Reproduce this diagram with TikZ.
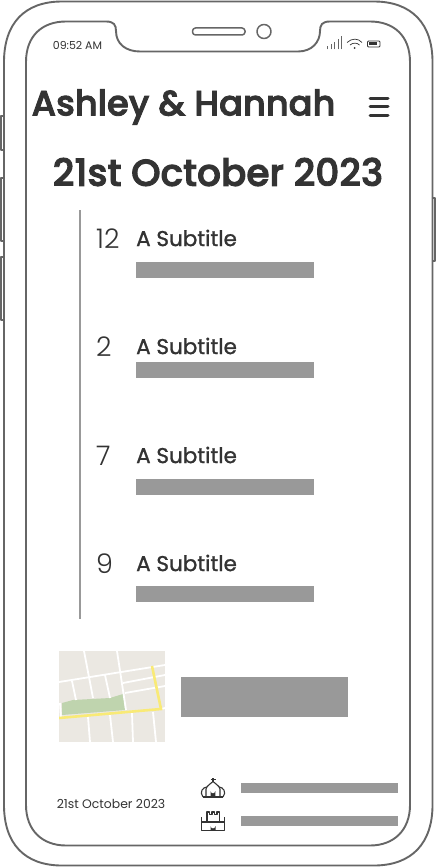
\documentclass[tikz,border=0pt]{standalone}
\usepackage{fontspec}
\setmainfont{Poppins}
\newfontfamily\headfont[FakeBold=2.5]{Poppins Medium}
\newfontfamily\midfont[FakeBold=1.2]{Poppins}
\newfontfamily\lightfont{Poppins Light}
\definecolor{ink}{HTML}{333333}
\definecolor{frame}{HTML}{666666}
\definecolor{bar}{HTML}{999999}
\definecolor{mapbg}{HTML}{EBE8E2}
\definecolor{mapgreen}{HTML}{BFD4AE}
\definecolor{mapyellow}{HTML}{F9EA76}
\tikzset{x=1pt,y=-1pt,
 framel/.style={draw=frame,line width=1.9pt,line join=round},
 btn/.style={draw=frame,line width=1.5pt,line join=round},
 barbox/.style={fill=bar,draw=none,inner sep=0pt,anchor=north west},
 txt/.style={text=ink,inner sep=0pt},
 road/.style={draw=white,line width=1.8pt},
 hway/.style={draw=mapyellow,line width=2.6pt},
 icon/.style={draw=ink,line width=1.1pt,line join=round}}
\newcommand{\barrect}[5]{\node[barbox,minimum width=#3pt,minimum height=#4pt] (#5) at (#1,#2) {};}
\begin{document}
\begin{tikzpicture}
\useasboundingbox (0,0) rectangle (436,867);
\fill[white] (0,0) rectangle (436,867);
% side buttons
\draw[btn] (3,116) -- (1,116) -- (1,150) -- (3,150);
\draw[btn] (3,178) -- (1,178) -- (1,241) -- (3,241);
\draw[btn] (3,257) -- (1,257) -- (1,320) -- (3,320);
\draw[btn] (432,198) -- (435,198) -- (435,261) -- (432,261);
% outer
\draw[framel] (62,1.5) -- (374,1.5) .. controls (412,1.5) and (432.5,24) .. (432.5,62) -- (432.5,805) .. controls (432.5,843) and (412,865.5) .. (374,865.5) -- (62,865.5) .. controls (24,865.5) and (4,843) .. (4,805) -- (4,62) .. controls (4,24) and (24,1.5) .. (62,1.5) -- cycle;
% inner
\draw[framel] (26,62) .. controls (26,36) and (42,21.5) .. (66,21.5) -- (106,21.5) .. controls (114,21.5) and (116,25) .. (116,31) .. controls (116,44) and (126,51.5) .. (140,51.5) -- (298,51.5) .. controls (312,51.5) and (320,42) .. (320,31) .. controls (320,25) and (322,21.5) .. (330,21.5) -- (370,21.5) .. controls (394,21.5) and (410,36) .. (410,62) -- (410,805) .. controls (410,830) and (394,845.5) .. (370,845.5) -- (66,845.5) .. controls (42,845.5) and (26,830) .. (26,805) -- cycle;
% speaker, camera
\draw[framel,line width=1.5pt,rounded corners=3pt] (192.5,28) rectangle (245,35);
\draw[framel,line width=1.5pt] (264,31.5) circle (7);
% status
\node[txt,font=\fontsize{11}{13}\selectfont] (clock) at (77.5,45) {09:52 AM};
\foreach \x/\h in {327.5/3,331/5,334.5/7,338/10,341.5/13}{\draw[frame,line width=.8pt] (\x,49.5) -- ++(0,-\h);}
\draw[ink,line width=.7pt] (347,42.5) .. controls (352,38) and (358,38) .. (362,42.5);
\draw[ink,line width=.7pt] (350,45) .. controls (353,42.5) and (357,42.5) .. (359.5,45);
\fill[ink] (354.6,48) circle (1);
\draw[ink,line width=.9pt,rounded corners=1pt] (367.5,41) rectangle (380,47);
\fill[ink] (369,42.5) rectangle (377,45.5);
% header
\node[txt,font=\fontsize{35.2}{40}\selectfont\headfont] (title) at (183.5,107) {Ashley \& Hannah};
\foreach \y in {98,106.5,115}{\draw[ink,line width=3pt,line cap=round] (370,\y) -- (388,\y);}
\node[txt,font=\fontsize{37.5}{42}\selectfont\headfont] (date) at (218,172) {21st October 2023};
% timeline
\coordinate (tl1) at (80,210);
\coordinate (tl2) at (80,619);
\draw[bar,line width=1.8pt] (tl1) -- (tl2);
\foreach \n/\y/\yb in {12/239/262,2/347/362,7/456/479,9/564/586}{
 \node[txt,font=\fontsize{27}{32}\selectfont\lightfont,anchor=west] (n\n) at (96,\y) {\n};
 \node[txt,font=\fontsize{21.5}{25}\selectfont\midfont,anchor=west] (s\n) at (136,\y-1) {A Subtitle};
 \barrect{136}{\yb}{178}{16}{b\n}
}
% map
\begin{scope}
\clip (59,651) rectangle (165,742);
\fill[mapbg] (59,651) rectangle (165,742);
\fill[mapgreen] (62,703) -- (73,700) -- (110,698) -- (123,694) -- (125,710) -- (62,715) -- cycle;
\draw[road] (59,682) -- (165,665);
\draw[road] (84,651) -- (93,698);
\draw[road] (117,651) -- (126,710);
\draw[road] (72,681) -- (76,700);
\draw[road] (105,675) -- (110,698);
\draw[road] (123,683) -- (165,675);
\draw[road] (125,693) -- (165,686);
\draw[road] (60,703) -- (61,718);
\draw[road] (88,717) -- (90,742);
\draw[road] (110,715) -- (113,742);
\draw[road] (132,713) -- (133,742);
\draw[road] (153,712) -- (156,742);
\draw[road] (161,709) -- (165,708);
\draw[hway] (59,718) -- (161,709) -- (152,666);
\end{scope}
\barrect{181}{677}{167}{40}{bigbar}
% footer
\node[txt,font=\fontsize{12.4}{14}\selectfont] (fdate) at (111,803.5) {21st October 2023};
% church icon
\draw[icon] (203,797) -- (223,797);
\draw[icon] (203,797) .. controls (199,792) and (203,787) .. (207,787);
\draw[icon] (223,797) .. controls (227,792) and (223,787) .. (219,787);
\draw[icon] (206,796) -- (206,789) .. controls (207,785) and (211,784) .. (213,781.5) .. controls (215,784) and (219,785) .. (220,789) -- (220,796);
\fill[ink] (210.5,797) -- (210.5,791) arc[start angle=180,end angle=0,radius=2.4] -- (215.3,797) -- cycle;
\draw[icon,line width=1.4pt] (213,778) -- (213,782) (210.5,779.5) -- (215.5,779.5);
% castle icon
\draw[icon] (207,822) -- (207,812) -- (209.5,812) -- (209.5,814.5) -- (212,814.5) -- (212,812) -- (214.5,812) -- (214.5,814.5) -- (217,814.5) -- (217,812) -- (219.5,812) -- (219.5,822);
\draw[icon] (201.5,817) -- (201.5,830.5) -- (224.5,830.5) -- (224.5,817);
\draw[icon] (201.5,822) -- (224.5,822);
\fill[ink] (210.5,830.5) -- (210.5,826) arc[start angle=180,end angle=0,radius=2.5] -- (215.5,830.5) -- cycle;
\barrect{241}{783}{157}{10}{fb1}
\barrect{241}{816}{157}{10}{fb2}
\end{tikzpicture}
\end{document}
